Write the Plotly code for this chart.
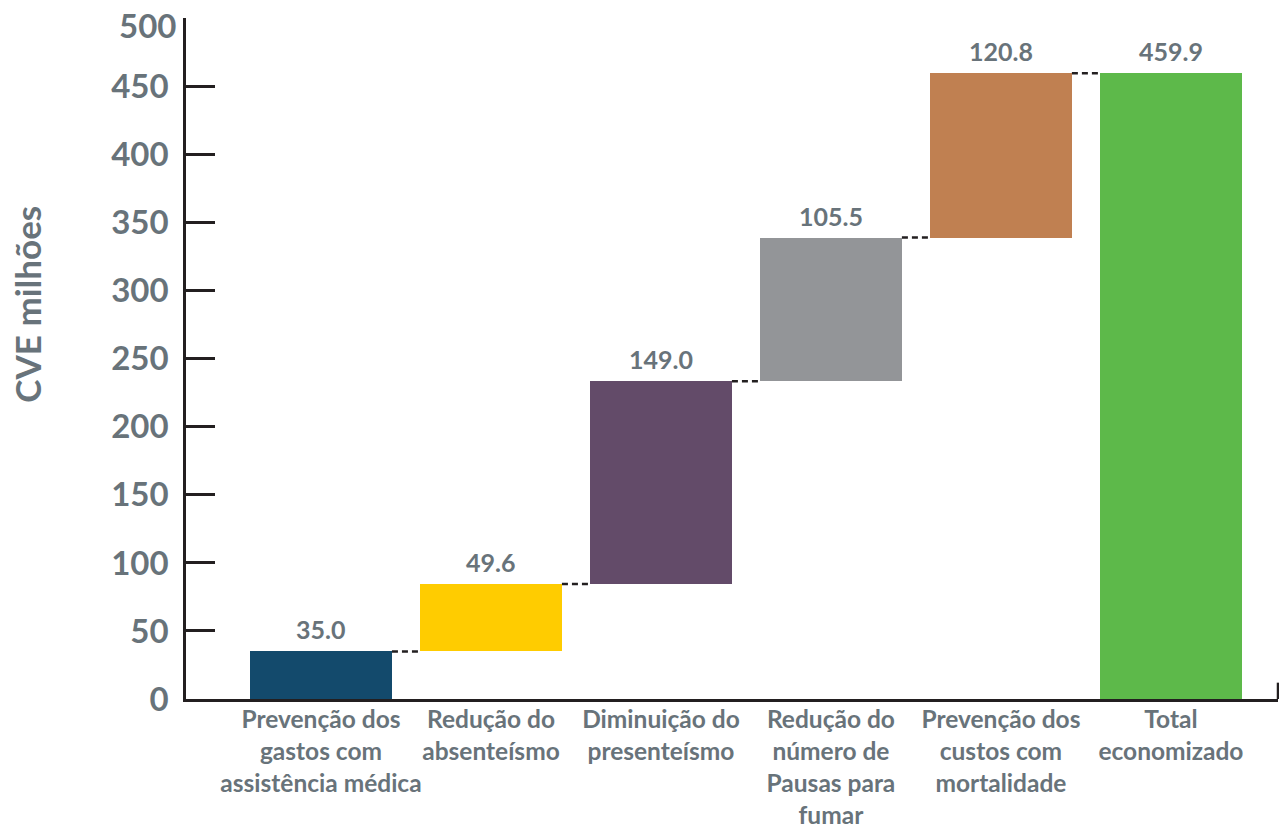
import plotly.graph_objects as go

categories = [
    "Prevenção dos<br>gastos com<br>assistência médica",
    "Redução do<br>absenteísmo",
    "Diminuição do<br>presenteísmo",
    "Redução do<br>número de<br>Pausas para<br>fumar",
    "Prevenção dos<br>custos com<br>mortalidade",
    "Total<br>economizado",
]
values = [35.0, 49.6, 149.0, 105.5, 120.8]
total_value = 459.9
colors = ["#134a6c", "#ffcc00", "#634b69", "#939598", "#c08051", "#5db94a"]
y_ticks = [0, 50, 100, 150, 200, 250, 300, 350, 400, 450, 500]

GRAY = "#68737a"
DARK = "#231f20"
FONT = "Lato"
BAR_W = 0.835

bases = []
run = 0.0
for v in values:
    bases.append(run)
    run += v
bases.append(0.0)
heights = values + [total_value]
tops = [b + h for b, h in zip(bases, heights)]
labels = [f"{h:.1f}" for h in heights]

x_idx = list(range(len(categories)))

fig = go.Figure()
fig.add_trace(go.Bar(
    x=x_idx, y=heights, base=bases, width=BAR_W,
    marker=dict(color=colors, line=dict(width=0)),
    hoverinfo="skip", showlegend=False,
))

for i, (t, lab) in enumerate(zip(tops, labels)):
    fig.add_annotation(x=i, y=t, text=lab, showarrow=False, yanchor="bottom",
                       yshift=5, font=dict(family=FONT, size=25, color=GRAY, weight="bold"))

for i in range(len(values)):
    level = tops[i]
    fig.add_shape(type="line", x0=i + BAR_W / 2, x1=i + 1 - BAR_W / 2, y0=level, y1=level,
                  xref="x", yref="y", line=dict(color=DARK, width=2.5, dash="6px,4px"), layer="below")

fig.add_shape(type="line", xref="paper", yref="y", x0=1, x1=1, y0=0, y1=12,
              line=dict(color=DARK, width=2.5))

# top tick label drawn slightly lower, as in the reference
y_ticktext = [str(v) for v in y_ticks[:-1]] + [""]
fig.add_annotation(xref="paper", yref="y", x=0, y=y_ticks[-1], text=str(y_ticks[-1]),
                   showarrow=False, xanchor="right", yanchor="middle", xshift=-8, yshift=-6,
                   font=dict(family=FONT, size=33, color=GRAY, weight="bold"))

fig.add_annotation(xref="paper", yref="paper", x=-0.1456, y=0.579, text="CVE milhões",
                   textangle=-90, showarrow=False, xanchor="center", yanchor="middle",
                   font=dict(family=FONT, size=35, color=GRAY, weight="bold"))

fig.update_layout(
    width=1279, height=825,
    margin=dict(l=186, r=1, t=18, b=126, autoexpand=False),
    plot_bgcolor="white", paper_bgcolor="white",
    bargap=0,
    xaxis=dict(
        range=[-0.794, 5.63], tickvals=x_idx, ticktext=categories,
        showline=True, linecolor=DARK, linewidth=2.5, ticks="", showgrid=False,
        zeroline=False, tickangle=0, ticklabelstandoff=-3,
        tickfont=dict(family=FONT, size=24.5, color=GRAY, weight="bold"),
        fixedrange=True,
    ),
    yaxis=dict(
        range=[0, 500.5], tickvals=y_ticks, ticktext=y_ticktext,
        showline=True, linecolor=DARK, linewidth=2.5,
        ticks="inside", ticklen=29, tickwidth=2.5, tickcolor=DARK, showgrid=False,
        zeroline=False, ticklabelstandoff=8, ticklabeloverflow="allow",
        tickfont=dict(family=FONT, size=33, color=GRAY, weight="bold"),
        fixedrange=True,
    ),
)

fig.write_html("out.html", config={"displayModeBar": False},
               post_script="document.body.style.margin='0';document.body.style.overflow='hidden';")
